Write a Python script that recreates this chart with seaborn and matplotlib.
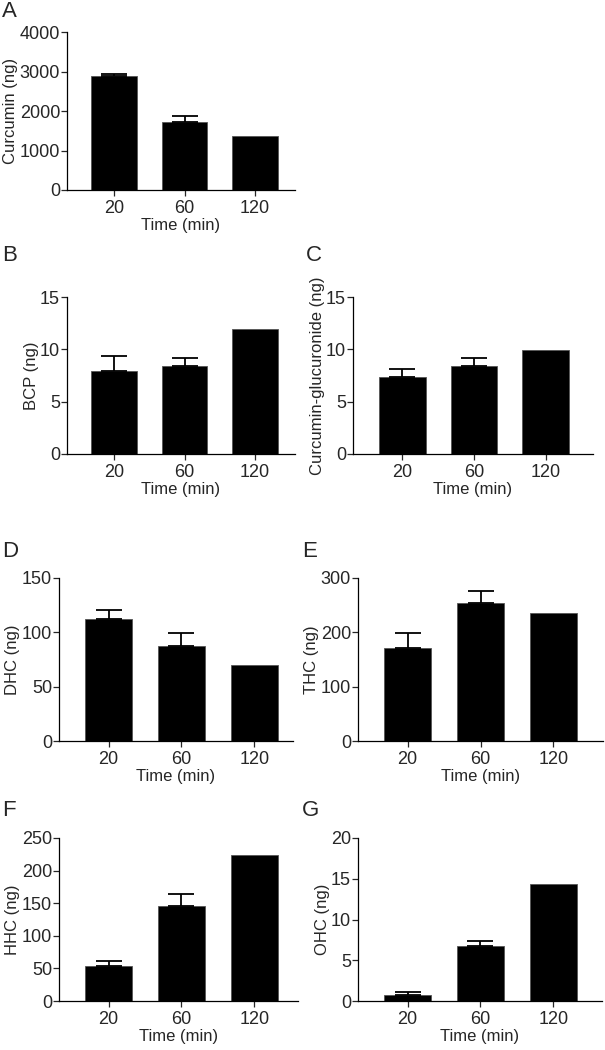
import matplotlib
matplotlib.use("Agg")
from matplotlib import pyplot as plt
import seaborn as sns
import pandas as pd

times = ["20", "60", "120"]

curcumin_mean = [2880, 1730, 1355]
curcumin_err = [45, 140, 0]
bcp_mean = [7.9, 8.4, 11.95]
bcp_err = [1.45, 0.75, 0]
glucuronide_mean = [7.4, 8.4, 9.95]
glucuronide_err = [0.75, 0.75, 0]
dhc_mean = [112, 87, 70]
dhc_err = [9, 12, 0]
thc_mean = [172, 254, 236]
thc_err = [27, 22, 0]
hhc_mean = [53, 145.5, 224.5]
hhc_err = [8.5, 18, 0]
ohc_mean = [0.78, 6.75, 14.4]
ohc_err = [0.32, 0.6, 0]

W, H = 605, 1050

sns.set_style("ticks")
plt.rcParams['font.family'] = ['Liberation Sans', 'DejaVu Sans']

fig = plt.figure(figsize=(W / 100, H / 100), dpi=100)


def add_panel(box, letter, letter_xy, means, errs, ylabel, ymax, step, xlim):
    l, t, r, b = box
    ax = fig.add_axes([l / W, 1 - b / H, (r - l) / W, (b - t) / H])
    df = pd.DataFrame({"Time": times, "Value": means})
    sns.barplot(data=df, x="Time", y="Value", order=times, color="black",
                saturation=1, width=0.65, errorbar=None, ax=ax,
                edgecolor="#555555", linewidth=0.6)
    xs = [i for i, e in enumerate(errs) if e > 0]
    ax.errorbar(xs, [means[i] for i in xs],
                yerr=[[0] * len(xs), [errs[i] for i in xs]],
                fmt="none", ecolor="black", elinewidth=1.3,
                capsize=9.5, capthick=1.3, zorder=1)
    ax.set_ylim(0, ymax)
    ax.set_yticks(range(0, ymax + 1, step))
    ax.set_xlim(*xlim)
    ax.set_xlabel("Time (min)", fontsize=12, labelpad=1)
    ax.set_ylabel(ylabel, fontsize=12, labelpad=1)
    ax.tick_params(axis="y", labelsize=13, length=4, width=0.9, pad=1)
    ax.tick_params(axis="x", labelsize=13, length=4, width=0.9, pad=3)
    for s in ["top", "right"]:
        ax.spines[s].set_visible(False)
    for s in ["left", "bottom"]:
        ax.spines[s].set_linewidth(0.9)
        ax.spines[s].set_color("black")
    fig.text(letter_xy[0] / W, 1 - letter_xy[1] / H, letter, fontsize=16,
             ha="left", va="top")
    return ax


add_panel((67, 32, 295, 190), "A", (2, 1), curcumin_mean, curcumin_err,
          "Curcumin (ng)", 4000, 1000, (-0.67, 2.57))
add_panel((67, 297, 295, 454), "B", (2, 245), bcp_mean, bcp_err,
          "BCP (ng)", 15, 5, (-0.67, 2.57))
add_panel((353, 297, 593, 454), "C", (306, 245), glucuronide_mean, glucuronide_err,
          "Curcumin-glucuronide (ng)", 15, 5, (-0.69, 2.66))
add_panel((59, 578, 293, 741), "D", (2, 541), dhc_mean, dhc_err,
          "DHC (ng)", 150, 50, (-0.68, 2.53))
add_panel((358, 578, 603, 741), "E", (302, 541), thc_mean, thc_err,
          "THC (ng)", 300, 100, (-0.68, 2.68))
add_panel((59, 838, 298, 1001), "F", (2, 800), hhc_mean, hhc_err,
          "HHC (ng)", 250, 50, (-0.68, 2.6))
add_panel((358, 838, 602, 1001), "G", (302, 800), ohc_mean, ohc_err,
          "OHC (ng)", 20, 5, (-0.68, 2.67))

fig.savefig("out.png", dpi=100, facecolor="white")
